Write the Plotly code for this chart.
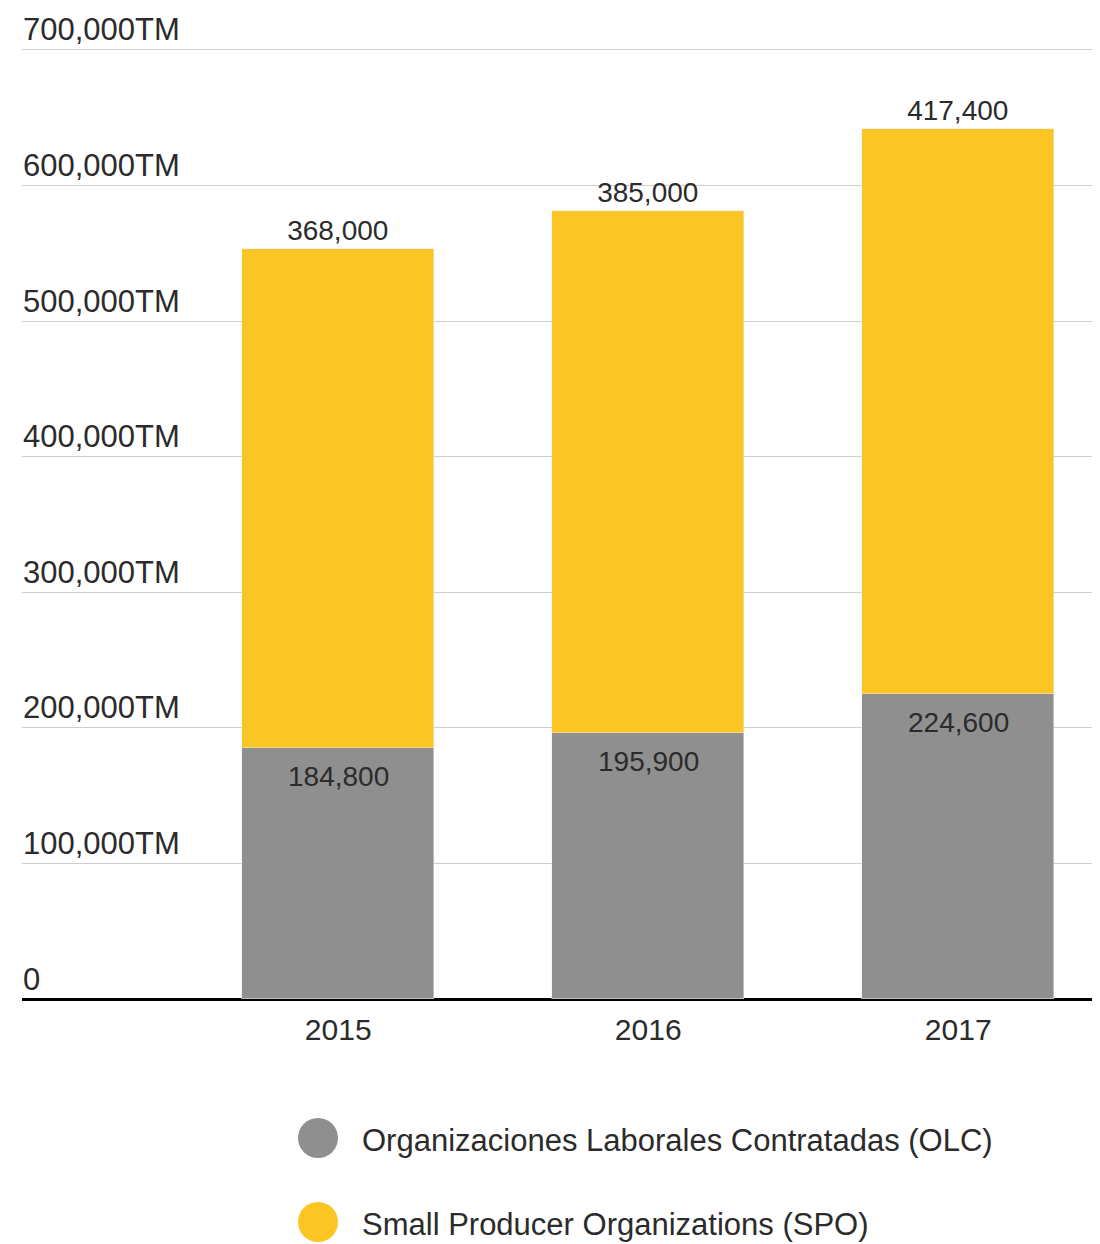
import plotly.graph_objects as go

years = ["2015", "2016", "2017"]
olc_values = [184800, 195900, 224600]
spo_values = [368000, 385000, 417400]
series_names = ["Organizaciones Laborales Contratadas (OLC)", "Small Producer Organizations (SPO)"]
tick_vals = [0, 100000, 200000, 300000, 400000, 500000, 600000, 700000]
tick_text = ["0", "100,000TM", "200,000TM", "300,000TM", "400,000TM", "500,000TM", "600,000TM", "700,000TM"]

GREY = "#8f8f8f"
YELLOW = "#fbc523"
TEXT = "#2b2b2b"
FONT = "Liberation Sans, Arial, sans-serif"

# page layout (the page body adds an 8px offset)
OFF = 8
PL, PB = 22, 999          # plot left / zero line in page pixels
W, H = 1086, 983          # plot area size (extends slightly past the window edge)
PT = PB - H               # plot top in page pixels
FIG_W, FIG_H = PL - OFF + W, 1244 - OFF

# category axis range chosen so bar centres land at the reference spacing
X_RANGE = [-1.02, -1.02 + W / 310]

fig = go.Figure()
fig.add_trace(go.Bar(
    x=years, y=olc_values, name=series_names[0], marker_color=GREY, width=0.62,
    showlegend=False, hoverinfo="skip",
))
fig.add_trace(go.Bar(
    x=years, y=spo_values, name=series_names[1], marker_color=YELLOW, width=0.62,
    texttemplate="%{y:,}", textposition="outside",
    textangle=0, constraintext="none", cliponaxis=False,
    outsidetextfont=dict(family=FONT, size=28, color=TEXT),
    showlegend=False, hoverinfo="skip",
))

annotations = []
# OLC value labels inside the top of the grey segments
for i, v in enumerate(olc_values):
    annotations.append(dict(x=i, y=v, xref="x", yref="y", text=f"{v:,}",
                            showarrow=False, yanchor="middle", yshift=-28,
                            font=dict(family=FONT, size=28, color=TEXT)))

# y tick labels sitting above their gridlines
for tv, tt in zip(tick_vals, tick_text):
    annotations.append(dict(x=0, y=tv, xref="paper", yref="y", text=tt,
                            showarrow=False, xanchor="left", yanchor="middle",
                            yshift=20, xshift=-1,
                            font=dict(family=FONT, size=31, color=TEXT)))

# Legend drawn manually (large circle markers)
legend_colors = [GREY, YELLOW]
legend_rows_y = [1138, 1222]  # pixel centers on page
shapes = []
for name, col, py in zip(series_names, legend_colors, legend_rows_y):
    shapes.append(dict(type="circle", xref="paper", yref="paper",
                       x0=(298 - PL) / W, x1=(338 - PL) / W,
                       y0=(PB - (py + 20)) / H, y1=(PB - (py - 20)) / H,
                       fillcolor=col, line=dict(width=0)))
    annotations.append(dict(text=name, xref="paper", yref="paper",
                            x=(360 - PL) / W, y=(PB - (py + 2)) / H,
                            xanchor="left", yanchor="middle", showarrow=False,
                            font=dict(family=FONT, size=31, color=TEXT)))

fig.update_layout(
    width=FIG_W, height=FIG_H,
    margin=dict(l=PL - OFF, r=0, t=PT - OFF, b=FIG_H - (PB - OFF)),
    paper_bgcolor="white", plot_bgcolor="white",
    barmode="stack", bargap=0,
    font=dict(family=FONT, size=30, color=TEXT),
    shapes=shapes, annotations=annotations,
    showlegend=False,
    xaxis=dict(type="category", range=X_RANGE, showgrid=False, ticks="",
               showline=False, zeroline=False, fixedrange=True, ticklabelstandoff=10,
               tickfont=dict(family=FONT, size=30, color=TEXT)),
    yaxis=dict(range=[0, 725000], tickvals=tick_vals, showticklabels=False,
               showgrid=True, gridcolor="#cfcfcf",
               gridwidth=1, zeroline=True, zerolinecolor="#000000", zerolinewidth=3,
               showline=False, ticks="", fixedrange=True),
)

fig.write_html("out.html")
